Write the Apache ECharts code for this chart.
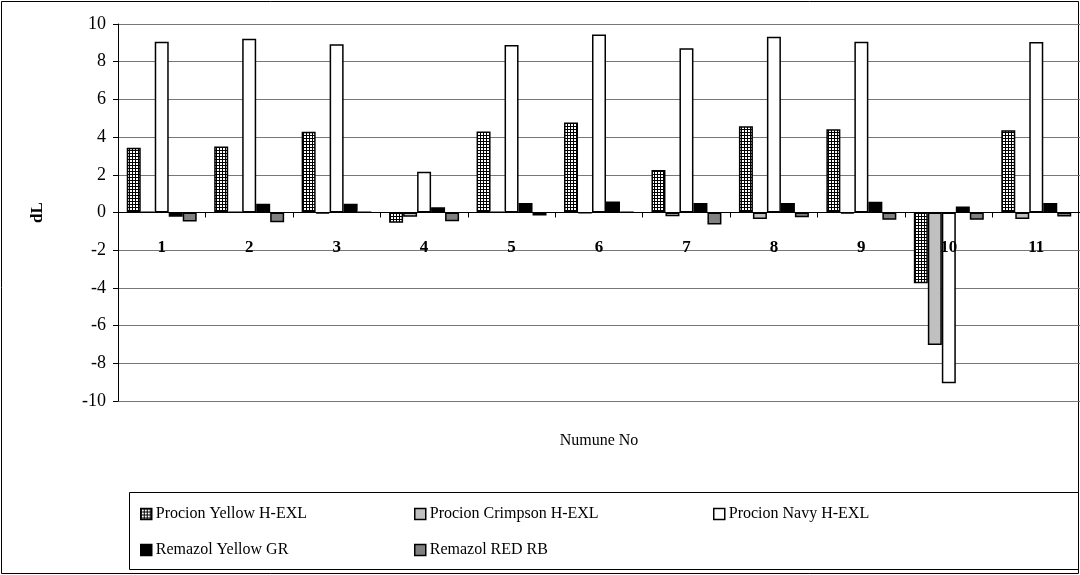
<!DOCTYPE html>
<html>
<head>
<meta charset="utf-8">
<title>dL - Numune No</title>
<script src="https://cdn.jsdelivr.net/npm/echarts@6/dist/echarts.min.js"></script>
<style>
  html, body { margin: 0; padding: 0; background: #fff; }
  #chart { width: 1080px; height: 575px; }
</style>
</head>
<body>
<div id="chart"></div>
<script>
// Sample numbers along the category axis
const categories = ['1', '2', '3', '4', '5', '6', '7', '8', '9', '10', '11'];

// dL values per dye
const procionYellow   = [3.43, 3.50, 4.28, -0.55, 4.30, 4.78, 2.25, 4.58, 4.41, -3.75, 4.36];
const procionCrimpson = [0.03, 0.03, -0.05, -0.23, 0.03, -0.03, -0.20, -0.34, -0.05, -7.03, -0.35];
const procionNavy     = [9.06, 9.22, 8.92, 2.16, 8.89, 9.44, 8.71, 9.33, 9.06, -9.06, 9.05];
const remazolYellow   = [-0.22, 0.46, 0.46, 0.28, 0.50, 0.58, 0.51, 0.51, 0.57, 0.32, 0.50];
const remazolRed      = [-0.48, -0.52, 0.03, -0.46, -0.16, 0.03, -0.64, -0.25, -0.39, -0.39, -0.21];

const seriesNames = [
  'Procion Yellow H-EXL',
  'Procion Crimpson H-EXL',
  'Procion Navy H-EXL',
  'Remazol Yellow GR',
  'Remazol RED RB'
];

const yTicks = { min: -10, max: 10, step: 2 };

// Small square-grid hatch used to fill the first series
function gridPattern() {
  const c = document.createElement('canvas');
  c.width = 3; c.height = 3;
  const g = c.getContext('2d');
  g.fillStyle = '#ffffff';
  g.fillRect(0, 0, 3, 3);
  g.fillStyle = '#000000';
  g.fillRect(0, 0, 3, 1);
  g.fillRect(0, 0, 1, 3);
  return { image: c, repeat: 'repeat' };
}

const fills = [gridPattern(), '#c0c0c0', '#ffffff', '#000000', '#808080'];
const values = [procionYellow, procionCrimpson, procionNavy, remazolYellow, remazolRed];

const serif = '"Liberation Serif", "Times New Roman", serif';

const chart = echarts.init(document.getElementById('chart'), null, { renderer: 'canvas' });

const series = seriesNames.map((name, i) => ({
  name: name,
  type: 'bar',
  data: values[i],
  barGap: '0%',
  barCategoryGap: '20%',
  itemStyle: {
    color: fills[i],
    borderColor: '#000',
    borderWidth: 1.5
  },
  emphasis: { disabled: true },
  animation: false
}));

// Legend entries placed in two rows inside the framed box
const legendPos = [
  { left: 140, top: 506 },
  { left: 414, top: 506 },
  { left: 713, top: 506 },
  { left: 140, top: 542 },
  { left: 414, top: 542 }
];
const legends = seriesNames.map((name, i) => ({
  data: [name],
  left: legendPos[i].left,
  top: legendPos[i].top,
  itemWidth: 11,
  itemHeight: 11,
  itemGap: 4,
  icon: 'rect',
  selectedMode: false,
  padding: 0,
  itemStyle: { borderColor: '#000', borderWidth: 1.5 },
  textStyle: { fontFamily: serif, fontSize: 16, color: '#000', padding: [0, 0, 0, -1] }
}));

chart.setOption({
  backgroundColor: '#fff',
  animation: false,
  textStyle: { fontFamily: serif },
  graphic: [
    {
      type: 'rect',
      shape: { x: 1.5, y: 1.5, width: 1077, height: 572 },
      style: { fill: 'none', stroke: '#000', lineWidth: 1 },
      z: -1
    },
    {
      type: 'rect',
      shape: { x: 129.5, y: 492.5, width: 949, height: 77 },
      style: { fill: 'none', stroke: '#000', lineWidth: 1 },
      z: -1
    }
  ],
  legend: legends,
  grid: { left: 118, right: 0, top: 24, bottom: 174, containLabel: false, outerBoundsMode: 'none' },
  xAxis: {
    type: 'category',
    data: categories,
    boundaryGap: true,
    z: 5,
    name: 'Numune No',
    nameLocation: 'middle',
    nameGap: 32,
    nameTextStyle: { fontFamily: serif, fontSize: 16, color: '#000' },
    axisLine: { onZero: true, lineStyle: { color: '#000', width: 1 } },
    axisTick: { show: true, alignWithLabel: false, length: 5, inside: false, lineStyle: { color: '#000' } },
    // category numbers sit just under the zero line, drawn over the bars
    axisLabel: { fontFamily: serif, fontSize: 17, fontWeight: 'bold', color: '#000', margin: -162 },
    splitLine: { show: false }
  },
  yAxis: {
    type: 'value',
    min: yTicks.min,
    max: yTicks.max,
    interval: yTicks.step,
    name: 'dL',
    nameLocation: 'middle',
    nameRotate: 90,
    nameGap: 72,
    nameTextStyle: { fontFamily: serif, fontSize: 17, fontWeight: 'bold', color: '#000' },
    axisLine: { show: true, lineStyle: { color: '#000', width: 1 } },
    axisTick: { show: true, length: 5, lineStyle: { color: '#000' } },
    axisLabel: { fontFamily: serif, fontSize: 18, color: '#000', margin: 12 },
    splitLine: { show: true, lineStyle: { color: '#777', width: 1 } }
  },
  series: series
});
</script>
</body>
</html>
